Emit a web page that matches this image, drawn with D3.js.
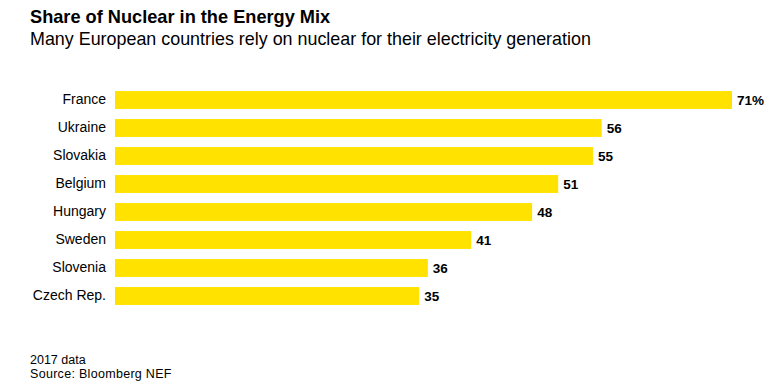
<!DOCTYPE html>
<meta charset="utf-8">
<style>
  body { margin: 0; background: #fff; }
  text { font-family: "Liberation Sans", Arial, sans-serif; fill: #000; }
</style>
<script src="https://d3js.org/d3.v7.min.js"></script>
<div id="chart"></div>
<script>
// data
var countries = ["France", "Ukraine", "Slovakia", "Belgium", "Hungary", "Sweden", "Slovenia", "Czech Rep."];
var shares = [71, 56, 55, 51, 48, 41, 36, 35];

var W = 777, H = 384;
var svg = d3.select("#chart").append("svg")
    .attr("width", W)
    .attr("height", H);

// title + subtitle
svg.append("text")
    .attr("x", 30).attr("y", 23)
    .style("font-size", "18.2px").style("font-weight", "bold")
    .text("Share of Nuclear in the Energy Mix");
svg.append("text")
    .attr("x", 30).attr("y", 45)
    .style("font-size", "17.9px")
    .text("Many European countries rely on nuclear for their electricity generation");

var x = d3.scaleLinear()
    .domain([0, 71])
    .range([115, 732]);

var y = d3.scaleBand()
    .domain(countries)
    .range([86, 310])
    .paddingInner(0.36)
    .paddingOuter(0.18);

// country labels
var yAxis = svg.append("g")
    .attr("transform", "translate(" + x(0) + ",0)")
    .call(d3.axisLeft(y).tickSize(0).tickPadding(9));
yAxis.select(".domain").remove();
yAxis.selectAll("text")
    .style("font-size", "14px")
    .style("font-family", "'Liberation Sans', Arial, sans-serif")
    .attr("fill", "#000");

var rows = countries.map(function(c, i) { return {name: c, value: shares[i]}; });

svg.selectAll("rect.bar")
  .data(rows)
  .enter().append("rect")
    .attr("class", "bar")
    .attr("x", x(0))
    .attr("y", function(d) { return y(d.name); })
    .attr("width", function(d) { return x(d.value) - x(0); })
    .attr("height", y.bandwidth())
    .attr("fill", "#ffe200");

svg.selectAll("text.val")
  .data(rows)
  .enter().append("text")
    .attr("class", "val")
    .attr("x", function(d) { return x(d.value) + 5; })
    .attr("y", function(d) { return y(d.name) + y.bandwidth() / 2; })
    .attr("dy", "0.35em")
    .style("font-size", "13.5px")
    .style("font-weight", "bold")
    .text(function(d, i) { return i === 0 ? d.value + "%" : d.value; });

// footer
svg.append("text")
    .attr("x", 30).attr("y", 363.5)
    .style("font-size", "12.5px")
    .text("2017 data");
svg.append("text")
    .attr("x", 30).attr("y", 378)
    .style("font-size", "12.5px")
    .style("letter-spacing", "0.3px")
    .text("Source: Bloomberg NEF");
</script>
